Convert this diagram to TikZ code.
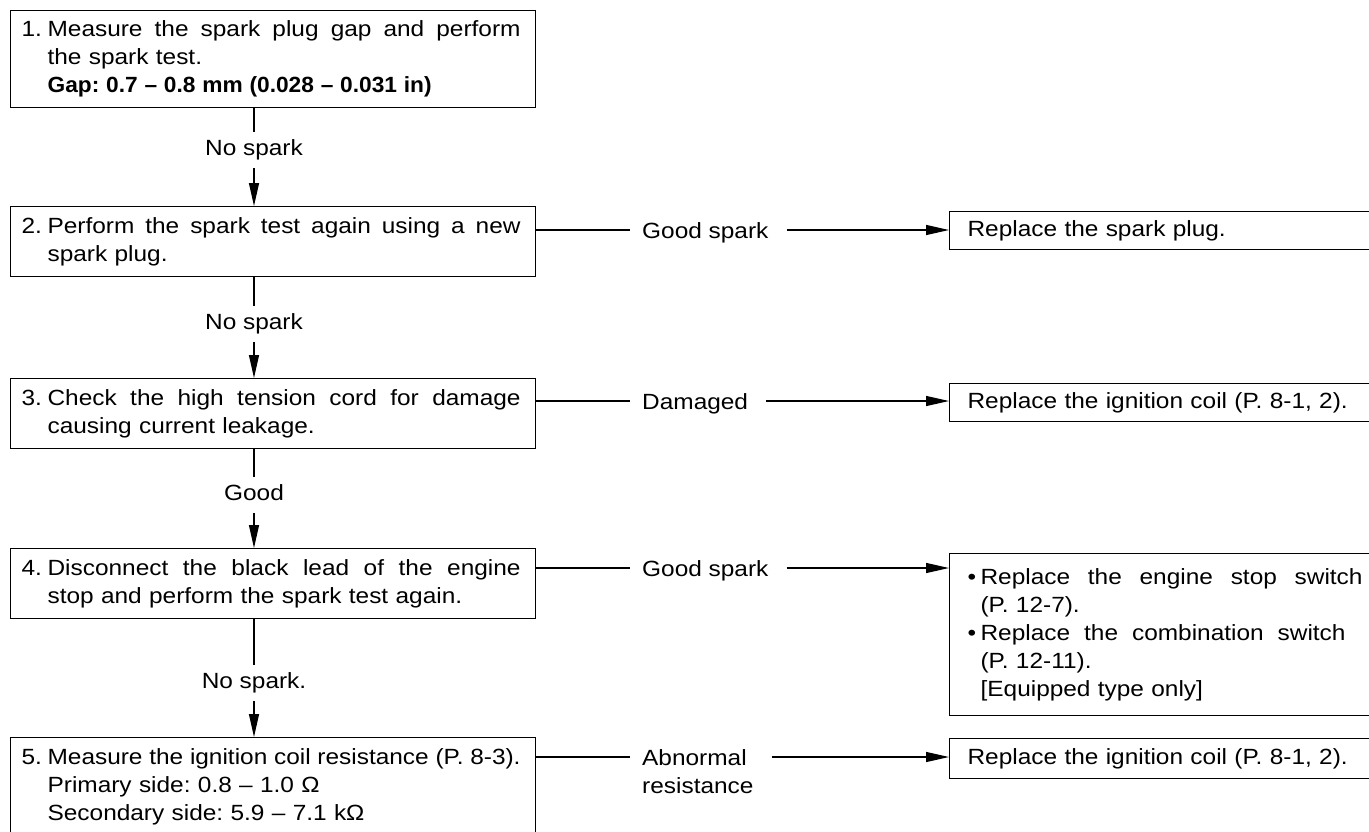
\documentclass[tikz,border=0pt]{standalone}
\usepackage{fontspec}
\usepackage{graphicx}
\setmainfont{Liberation Sans}[FakeStretch=1.11]
\usetikzlibrary{arrows.meta}
\newcommand\jl[2]{\makebox[#1][s]{\spaceskip=0pt\xspaceskip=0pt\relax #2}}
\begin{document}
\begin{tikzpicture}[x=1pt,y=-1pt,
  every node/.style={font=\fontsize{22}{28}\selectfont\frenchspacing},
  stepbox/.style={draw, line width=1.2pt, anchor=north west, minimum width=525pt, text width=503pt, inner xsep=11pt, inner ysep=0pt},
  resbox/.style={draw, line width=1.2pt, anchor=north west, text width=502pt, inner xsep=18pt, inner ysep=0pt},
  vlbl/.style={inner xsep=2pt, inner ysep=8pt, text height=15.5pt, text depth=4.5pt},
  hlbl/.style={anchor=base west, inner xsep=12pt, inner ysep=0pt},
  conn/.style={line width=1.3pt},
  arr/.style={conn, -{Triangle[length=23pt,width=10pt]}}
]
\useasboundingbox (0,0) rectangle (1369,831);
\clip (0,0) rectangle (1369,831);
\fill[white] (0,0) rectangle (1369,831);

% step boxes
\node[stepbox, minimum height=97pt] (b1) at (10,10) {\begin{tabular}[t]{@{}p{26pt}@{}l@{}}
1. & \jl{473pt}{Measure the spark plug gap and perform}\\
 & the spark test.\\
 & \scalebox{0.93}[1]{\textbf{Gap: 0.7 – 0.8 mm (0.028 – 0.031 in)}}
\end{tabular}};

\node[stepbox, minimum height=70pt] (b2) at (10,206) {\begin{tabular}[t]{@{}p{26pt}@{}l@{}}
2. & \jl{473pt}{Perform the spark test again using a new}\\
 & spark plug.
\end{tabular}};

\node[stepbox, minimum height=70pt] (b3) at (10,378) {\begin{tabular}[t]{@{}p{26pt}@{}l@{}}
3. & \jl{473pt}{Check the high tension cord for damage}\\
 & causing current leakage.
\end{tabular}};

\node[stepbox, minimum height=70pt] (b4) at (10,548) {\begin{tabular}[t]{@{}p{26pt}@{}l@{}}
4. & \jl{473pt}{Disconnect the black lead of the engine}\\
 & stop and perform the spark test again.
\end{tabular}};

\node[stepbox, minimum height=98pt] (b5) at (10,737) {\begin{tabular}[t]{@{}p{26pt}@{}l@{}}
5. & \jl{473pt}{Measure the ignition coil resistance (P. 8-3).}\\
 & Primary side: 0.8 – 1.0 Ω\\
 & Secondary side: 5.9 – 7.1 kΩ
\end{tabular}};

% result boxes
\node[resbox, minimum height=38pt] (r2) at (949,211) {Replace the spark plug.};
\node[resbox, minimum height=38pt] (r3) at (949,383) {Replace the ignition coil (P. 8-1, 2).};
\node[resbox, minimum height=162pt] (r4) at (949,553) {\begin{tabular}[t]{@{}p{13pt}@{}l@{}}
• & \jl{382pt}{Replace the engine stop switch}\\
 & (P. 12-7).\\
• & \jl{365pt}{Replace the combination switch}\\
 & (P. 12-11).\\
 & [Equipped type only]
\end{tabular}};
\node[resbox, minimum height=40pt] (r5) at (949,738) {Replace the ignition coil (P. 8-1, 2).};

% vertical labels and connectors
\node[vlbl] (l1) at (254,150) {No spark};
\node[vlbl] (l2) at (254,324) {No spark};
\node[vlbl] (l3) at (254,495) {Good};
\node[vlbl] (l4) at (254,683) {No spark.};

\draw[conn] (l1 |- b1.south) -- (l1.north);
\draw[arr] (l1.south) -- (l1 |- b2.north);
\draw[conn] (l2 |- b2.south) -- (l2.north);
\draw[arr] (l2.south) -- (l2 |- b3.north);
\draw[conn] (l3 |- b3.south) -- (l3.north);
\draw[arr] (l3.south) -- (l3 |- b4.north);
\draw[conn] (l4 |- b4.south) -- (l4.north);
\draw[arr] (l4.south) -- (l4 |- b5.north);

% horizontal labels and connectors
\node[hlbl] (g2) at (630,238) {Good spark};
\node[hlbl] (g3) at (630,409) {Damaged};
\node[hlbl] (g4) at (630,576) {Good spark};
\node[hlbl] (g5) at (630,765) {\begin{tabular}[t]{@{}l@{}}Abnormal\\resistance\end{tabular}};

\foreach \i in {2,3,4,5} {
  \coordinate (g\i w) at ([yshift=8pt]g\i.base west);
  \coordinate (g\i e) at ([xshift=6pt,yshift=8pt]g\i.base east);
}
\draw[conn] (g2w -| b2.east) -- (g2w);
\draw[arr] (g2e) -- (g2e -| r2.west);
\draw[conn] (g3w -| b3.east) -- (g3w);
\draw[arr] (g3e) -- (g3e -| r3.west);
\draw[conn] (g4w -| b4.east) -- (g4w);
\draw[arr] (g4e) -- (g4e -| r4.west);
\draw[conn] (g5w -| b5.east) -- (g5w);
\draw[arr] (g5e) -- (g5e -| r5.west);
\end{tikzpicture}
\end{document}
